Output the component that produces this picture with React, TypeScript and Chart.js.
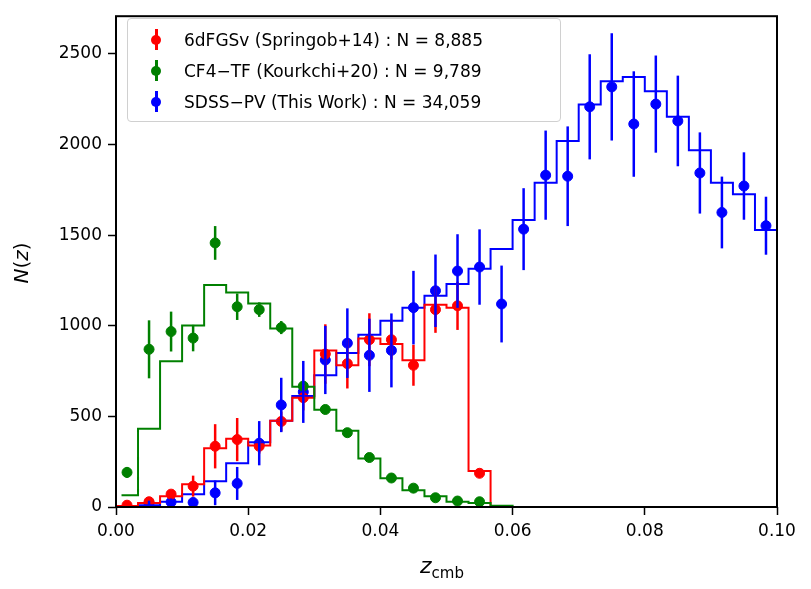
import { useEffect, useRef } from 'react';
import { Chart, registerables } from 'chart.js';

Chart.register(...registerables);

const BIN = 1 / 300; // bin width in z

// step histograms (one level per bin, starting at bin 0)
const greenSteps = [65, 432, 804, 1001, 1225, 1183, 1123, 985, 664, 536, 421, 268, 159, 93, 60, 29, 22, 7, 0, 0];
const redSteps = [5, 22, 60, 126, 324, 377, 339, 476, 603, 864, 782, 930, 899, 810, 1116, 1100, 199, 0];
const blueSteps = [0, 10, 29, 71, 142, 241, 357, 476, 613, 727, 850, 951, 1028, 1100, 1165, 1231, 1315, 1424, 1583, 1789, 2020, 2221, 2349, 2373, 2294, 2153, 1969, 1789, 1725, 1528];

// points with error bars (first bin index, values, errors)
const greenStart = 0;
const greenPts = [191, 870, 968, 932, 1457, 1105, 1089, 990, 667, 538, 410, 273, 160, 104, 51, 33, 29];
const greenErr = [30, 160, 110, 73, 93, 73, 40, 36, 20, 15, 15, 10, 10, 10, 8, 8, 8];
const redStart = 0;
const redPts = [10, 29, 71, 115, 335, 372, 335, 472, 603, 844, 791, 923, 923, 782, 1089, 1110, 186];
const redErr = [5, 10, 20, 58, 122, 119, 40, 55, 70, 164, 137, 146, 110, 113, 128, 133, 15];
const blueStart = 1;
const bluePts = [20, 27, 25, 78, 130, 352, 563, 635, 811, 904, 837, 864, 1100, 1193, 1302, 1324, 1120, 1533, 1831, 1825, 2208, 2318, 2113, 2223, 2130, 1843, 1625, 1771, 1552];
const blueErr = [15, 20, 20, 68, 91, 122, 150, 171, 188, 192, 202, 204, 203, 200, 203, 208, 212, 226, 246, 275, 290, 296, 291, 268, 250, 224, 198, 186, 160];

const labels = [
  { color: '#ff0000', text: '6dFGSv (Springob+14) : N = 8,885' },
  { color: '#008000', text: 'CF4\u2212TF (Kourkchi+20) : N = 9,789' },
  { color: '#0000ff', text: 'SDSS\u2212PV (This Work) : N = 34,059' },
];

// points at the left edge of each bin plus a closing point; line holds the level across the bin
const stepData = (levels: number[], firstEdge = 0) => {
  const d = levels.map((v, i) => ({ x: i === 0 ? firstEdge : i * BIN, y: v }));
  d.push({ x: levels.length * BIN, y: levels[levels.length - 1] });
  return d;
};
const ptData = (start: number, vals: number[], errs: number[]) =>
  vals.map((v, i) => ({ x: (start + i + 0.5) * BIN, y: v, err: errs[i] }));

const errorBars = {
  id: 'errorBars',
  afterDatasetsDraw(chart: any) {
    const { ctx, scales } = chart;
    chart.data.datasets.forEach((ds: any) => {
      if (!ds.isPoints) return;
      ctx.save();
      ctx.strokeStyle = ds.backgroundColor;
      ctx.lineWidth = 2.5;
      ds.data.forEach((p: any) => {
        const x = scales.x.getPixelForValue(p.x);
        ctx.beginPath();
        ctx.moveTo(x, scales.y.getPixelForValue(p.y - p.err));
        ctx.lineTo(x, scales.y.getPixelForValue(p.y + p.err));
        ctx.stroke();
      });
      ctx.restore();
    });
  },
  afterDraw(chart: any) {
    const { ctx, chartArea: a } = chart;
    ctx.save();
    ctx.strokeStyle = '#000';
    ctx.lineWidth = 2;
    ctx.strokeRect(a.left, a.top, a.right - a.left, a.bottom - a.top);
    ctx.restore();
  },
};

export default function App() {
  const ref = useRef<HTMLCanvasElement>(null);

  useEffect(() => {
    document.body.style.margin = '0';
    if (!ref.current) return;
    const line = (levels: number[], color: string, first = 0) => ({
      type: 'line' as const,
      data: stepData(levels, first),
      borderColor: color,
      borderWidth: 2,
      pointRadius: 0,
      stepped: 'before' as const,
      fill: false,
    });
    const pts = (start: number, v: number[], e: number[], color: string) => ({
      type: 'scatter' as const,
      data: ptData(start, v, e),
      backgroundColor: color,
      borderColor: color,
      pointRadius: 5,
      isPoints: true,
    });
    const chart = new Chart(ref.current, {
      type: 'scatter',
      data: {
        datasets: [
          line(greenSteps, '#008000', BIN / 4),
          line(redSteps, '#ff0000'),
          line(blueSteps, '#0000ff'),
          pts(greenStart, greenPts, greenErr, '#008000'),
          pts(redStart, redPts, redErr, '#ff0000'),
          pts(blueStart, bluePts, blueErr, '#0000ff'),
        ] as any,
      },
      options: {
        animation: false,
        responsive: false,
        layout: { padding: { top: 12, right: 34, left: 0, bottom: 0 } },
        plugins: { legend: { display: false }, tooltip: { enabled: false } },
        scales: {
          x: {
            type: 'linear',
            min: 0,
            max: 0.1,
            afterFit: (s: any) => { s.height = 82; },
            afterBuildTicks: (s: any) => {
              s.ticks = [0, 0.02, 0.04, 0.06, 0.08, 0.1].map((v) => ({ value: v }));
            },
            ticks: {
              color: '#000',
              font: { family: 'DejaVu Sans', size: 17 },
              padding: 6,
              maxRotation: 0,
              callback: (v: any) => Number(v).toFixed(2),
            },
            grid: { drawOnChartArea: false, tickLength: 8, tickWidth: 1.5, tickColor: '#000' },
            border: { display: false },
          },
          y: {
            min: 0,
            max: 2708,
            afterFit: (s: any) => { s.width = 116; },
            afterBuildTicks: (s: any) => {
              s.ticks = [0, 500, 1000, 1500, 2000, 2500].map((v) => ({ value: v }));
            },
            ticks: {
              color: '#000',
              font: { family: 'DejaVu Sans', size: 17 },
              padding: 6,
              callback: (v: any) => String(v),
            },
            grid: { drawOnChartArea: false, tickLength: 8, tickWidth: 1.5, tickColor: '#000' },
            border: { display: false },
          },
        },
      },
      plugins: [errorBars],
    });
    return () => chart.destroy();
  }, []);

  const font = "'DejaVu Sans', sans-serif";
  return (
    <div style={{ position: 'relative', width: 811, height: 589, fontFamily: font }}>
      <canvas ref={ref} width={811} height={589} />
      <div style={{ position: 'absolute', left: 6, top: 238, width: 30, height: 50, display: 'flex', alignItems: 'center', justifyContent: 'center' }}>
        <span style={{ transform: 'rotate(-90deg)', fontSize: 20, whiteSpace: 'nowrap' }}>
          <i>N</i>(<i>z</i>)
        </span>
      </div>
      <div style={{ position: 'absolute', left: 420, top: 553, fontSize: 22 }}>
        <i>z</i><sub style={{ fontSize: 15 }}>cmb</sub>
      </div>
      <div style={{ position: 'absolute', left: 127, top: 18, width: 434, height: 104, border: '1px solid #d0d0d0', borderRadius: 4, background: 'rgba(255,255,255,0.8)', padding: '5px 0', boxSizing: 'border-box' }}>
        {labels.map((l) => (
          <div key={l.text} style={{ display: 'flex', alignItems: 'center', height: 31, fontSize: 17 }}>
            <div style={{ position: 'relative', width: 56, height: 31 }}>
              <div style={{ position: 'absolute', left: 27, top: 5, width: 2.5, height: 21, background: l.color }} />
              <div style={{ position: 'absolute', left: 23, top: 11, width: 10, height: 10, borderRadius: 5, background: l.color }} />
            </div>
            <span>{l.text}</span>
          </div>
        ))}
      </div>
    </div>
  );
}
